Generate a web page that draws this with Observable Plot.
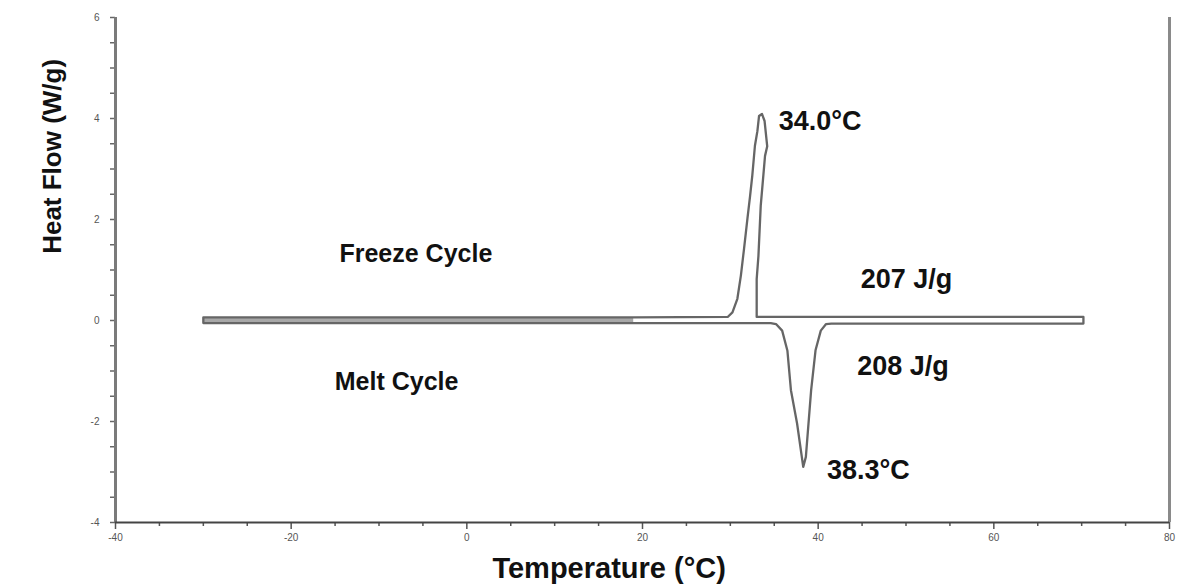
<!DOCTYPE html>
<html>
<head>
<meta charset="utf-8">
<script src="https://cdn.jsdelivr.net/npm/d3@7"></script>
<script src="https://cdn.jsdelivr.net/npm/@observablehq/plot@0.6"></script>
<style>
  html, body { margin: 0; padding: 0; background: #fff; }
  #chart svg { display: block; }
</style>
</head>
<body>
<div id="chart"></div>
<script>
// ---- Data ----
// Melt cycle (heating, -30 -> 70 °C)
const meltTemp = [-30, 19, 34.6, 35.2, 35.9, 36.5, 36.9, 37.6, 38.3, 38.6, 39.2, 39.7, 40.3, 40.9, 41.5, 70.2];
const meltFlow = [-0.05, -0.05, -0.05, -0.07, -0.2, -0.6, -1.38, -2.04, -2.9, -2.7, -1.38, -0.59, -0.2, -0.07, -0.06, -0.06];

// Freeze cycle (cooling, 70 -> -30 °C)
const freezeTemp = [70.2, 50, 33.0, 33.0, 33.2, 33.46, 33.95, 34.2, 33.9, 33.6, 33.27, 33.08, 32.8, 32.5, 32.25, 31.95, 31.56, 31.2, 30.8, 30.24, 29.7, 19, -30];
const freezeFlow = [0.07, 0.07, 0.07, 0.82, 1.28, 2.27, 3.26, 3.45, 3.95, 4.09, 4.05, 3.75, 3.46, 2.87, 2.47, 2.02, 1.42, 0.89, 0.43, 0.16, 0.07, 0.06, 0.06];

// region where both baselines overlap (drawn as one thick band)
const bandTemp = [-30, 19];
const bandLow = [-0.05, -0.05];
const bandHigh = [0.06, 0.06];

// axes
const xDomain = [-40, 80];
const yDomain = [-4, 6];
const xTicks = [-40, -20, 0, 20, 40, 60, 80];
const xMinorTicks = [-35, -30, -25, -15, -10, -5, 5, 10, 15, 25, 30, 35, 45, 50, 55, 65, 70, 75];
const yTicks = [-4, -2, 0, 2, 4, 6];
const yMinorTicks = [-3.5, -3, -2.5, -1.5, -1, -0.5, 0.5, 1, 1.5, 2.5, 3, 3.5, 4.5, 5, 5.5];

// annotations
const cycleLabels = [
  {text: "Freeze Cycle", x: -5.8, y: 1.32},
  {text: "Melt Cycle", x: -8.0, y: -1.22}
];
const valueLabels = [
  {text: "207 J/g", x: 44.85, y: 0.81},
  {text: "208 J/g", x: 44.45, y: -0.91},
  {text: "34.0°C", x: 35.5, y: 3.95},
  {text: "38.3°C", x: 41.0, y: -2.96}
];
const xTitle = "Temperature (°C)";
const yTitle = "Heat Flow (W/g)";

// build one continuous path: heating then cooling
const curve = [
  ...meltTemp.map((t, i) => ({t, hf: meltFlow[i]})),
  ...freezeTemp.map((t, i) => ({t, hf: freezeFlow[i]}))
];
curve.push({t: meltTemp[0], hf: meltFlow[0]});
const band = bandTemp.map((t, i) => ({t, lo: bandLow[i], hi: bandHigh[i]}));

const font = "'Liberation Sans', Arial, Helvetica, sans-serif";

const chart = Plot.plot({
  width: 1196,
  height: 584,
  marginLeft: 115,
  marginRight: 27,
  marginTop: 17,
  marginBottom: 62,
  style: {fontFamily: font, background: "#fff"},
  x: {domain: xDomain},
  y: {domain: yDomain},
  marks: [
    // minor ticks
    Plot.axisX({ticks: xMinorTicks, tickSize: 4, text: null, stroke: "#555", strokeWidth: 1.5}),
    Plot.axisY({ticks: yMinorTicks, tickSize: 5, text: null, stroke: "#666", strokeWidth: 1.5}),
    // major ticks with labels
    Plot.axisX({ticks: xTicks, tickSize: 7, tickPadding: 4, tickFormat: d => String(d), label: null,
      fontSize: 10, fill: "#555", stroke: "#555", strokeWidth: 1.5}),
    Plot.axisY({ticks: yTicks, tickSize: 5, tickPadding: 11, tickFormat: d => String(d), label: null,
      fontSize: 10, fill: "#555", stroke: "#666", strokeWidth: 1.5}),
    // frame lines
    Plot.ruleX([xDomain[0]], {y1: yDomain[0], y2: yDomain[1], stroke: "#7a7a7a", strokeWidth: 3}),
    Plot.ruleX([xDomain[1]], {y1: yDomain[0], y2: yDomain[1], stroke: "#8a8a8a", strokeWidth: 3}),
    Plot.ruleY([yDomain[0]], {x1: xDomain[0], x2: xDomain[1], stroke: "#444", strokeWidth: 2}),
    // overlapped baseline band
    Plot.areaY(band, {x: "t", y1: "lo", y2: "hi", fill: "#a8a8a8"}),
    // DSC curve
    Plot.line(curve, {x: "t", y: "hf", stroke: "#666", strokeWidth: 2.3,
      strokeLinejoin: "round", strokeLinecap: "round", curve: "linear"}),
    // annotations
    Plot.text(cycleLabels, {x: "x", y: "y", text: "text", textAnchor: "middle",
      fontSize: 25, fontWeight: "bold", fill: "#111", lineAnchor: "middle"}),
    Plot.text(valueLabels, {x: "x", y: "y", text: "text", textAnchor: "start",
      fontSize: 27, fontWeight: "bold", fill: "#111", lineAnchor: "middle"}),
    // axis titles
    Plot.text([xTitle], {x: 16.2, frameAnchor: "bottom", dy: 46, fontSize: 29, fontWeight: "bold",
      fill: "#111", lineAnchor: "middle"}),
    Plot.text([yTitle], {y: 1.32, frameAnchor: "left", dx: -63, rotate: -90, fontSize: 26,
      fontWeight: "bold", fill: "#111", lineAnchor: "middle"})
  ]
});
document.getElementById("chart").appendChild(chart);
</script>
</body>
</html>
